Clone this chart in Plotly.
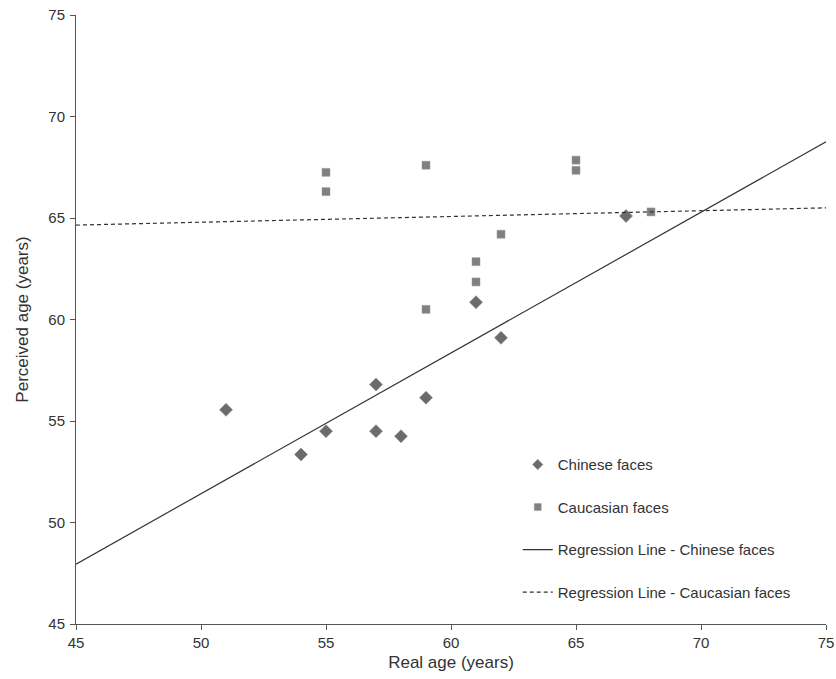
import plotly.graph_objects as go

# Data
chinese_real = [51, 54, 55, 57, 57, 58, 59, 61, 62, 67]
chinese_perceived = [55.55, 53.35, 54.5, 56.8, 54.5, 54.25, 56.15, 60.85, 59.1, 65.1]

caucasian_real = [55, 55, 59, 59, 61, 61, 62, 65, 65, 68]
caucasian_perceived = [67.25, 66.3, 67.6, 60.5, 62.85, 61.85, 64.2, 67.85, 67.35, 65.3]

reg_x = [45, 75]
reg_chinese = [47.95, 68.75]
reg_caucasian = [64.65, 65.5]

x_ticks = [45, 50, 55, 60, 65, 70, 75]
y_ticks = [45, 50, 55, 60, 65, 70, 75]

FONT = "Liberation Sans, Arial, sans-serif"

fig = go.Figure()
fig.add_trace(go.Scatter(
    x=chinese_real, y=chinese_perceived, mode="markers", name="Chinese faces",
    showlegend=False,
    marker=dict(symbol="diamond", size=10, color="#6b6b6b",
                line=dict(color="#8a8a8a", width=0.6)),
))
fig.add_trace(go.Scatter(
    x=caucasian_real, y=caucasian_perceived, mode="markers", name="Caucasian faces",
    showlegend=False,
    marker=dict(symbol="square", size=8, color="#808080",
                line=dict(color="#9a9a9a", width=0.5)),
))
fig.add_trace(go.Scatter(
    x=reg_x, y=reg_chinese, mode="lines", name="Regression Line - Chinese faces",
    showlegend=False,
    line=dict(color="#333333", width=1.2),
))
fig.add_trace(go.Scatter(
    x=reg_x, y=reg_caucasian, mode="lines", name="Regression Line - Caucasian faces",
    showlegend=False,
    line=dict(color="#333333", width=1.2, dash="4px,3px"),
))

# Legend entries (smaller symbols, as in the reference)
fig.add_trace(go.Scatter(x=[None], y=[None], mode="markers", name="Chinese faces",
                         legendgroup="a",
                         marker=dict(symbol="diamond", size=8, color="#6b6b6b",
                                     line=dict(color="#8a8a8a", width=0.5))))
fig.add_trace(go.Scatter(x=[None], y=[None], mode="markers", name="Caucasian faces",
                         legendgroup="b",
                         marker=dict(symbol="square", size=7, color="#808080",
                                     line=dict(color="#9a9a9a", width=0.5))))
fig.add_trace(go.Scatter(x=[None], y=[None], mode="lines", name="Regression Line - Chinese faces",
                         legendgroup="c", line=dict(color="#333333", width=1.2)))
fig.add_trace(go.Scatter(x=[None], y=[None], mode="lines", name="Regression Line - Caucasian faces",
                         legendgroup="d", line=dict(color="#333333", width=1.2, dash="4px,3px")))

axis_common = dict(
    showgrid=False, zeroline=False, showline=True, linecolor="#555555", linewidth=1,
    ticks="outside", ticklen=5, tickcolor="#555555", tickwidth=1, automargin=False,
    ticklabeloverflow="allow",
    tickfont=dict(family=FONT, size=15, color="#333333"),
)

fig.update_layout(
    width=836, height=679,
    margin=dict(l=76, r=10, t=15, b=55),
    plot_bgcolor="white", paper_bgcolor="white",
    font=dict(family=FONT, size=15, color="#333333"),
    xaxis=dict(range=[45, 75], tickvals=x_ticks,
               title=dict(text="Real age (years)", font=dict(family=FONT, size=17, color="#333333"), standoff=6),
               **axis_common),
    yaxis=dict(range=[45, 75], tickvals=y_ticks, ticklabelstandoff=2,
               title=dict(text="Perceived age (years)", font=dict(family=FONT, size=17, color="#333333"), standoff=15),
               **axis_common),
    legend=dict(x=0.589, y=0.2885, xanchor="left", yanchor="top",
                traceorder="grouped", tracegroupgap=20,
                font=dict(family=FONT, size=15, color="#333333"),
                bgcolor="rgba(0,0,0,0)", itemwidth=30),
    showlegend=True,
)

fig.write_html(
    "out.html",
    config={"displayModeBar": False},
    post_script="document.body.style.margin='0';document.body.style.overflow='hidden';",
)
